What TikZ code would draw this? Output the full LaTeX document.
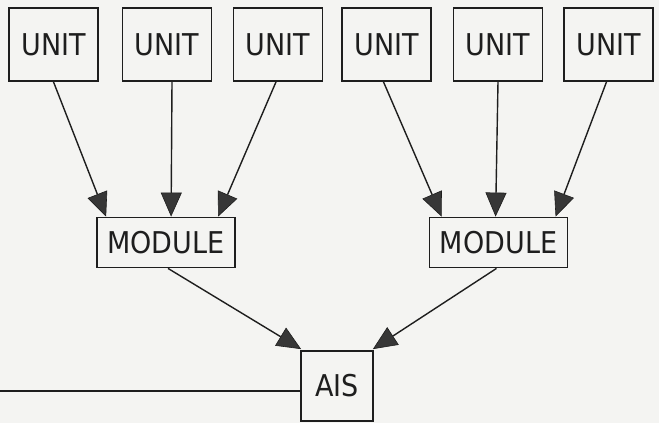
\documentclass[tikz,border=0pt]{standalone}
\usepackage{fontspec}
\setmainfont{DejaVu Sans}[FakeStretch=0.9]
\usetikzlibrary{arrows.meta,calc}
\definecolor{paper}{RGB}{244,244,242}
\definecolor{ink}{RGB}{30,30,30}
\definecolor{tipink}{RGB}{55,55,55}
\tikzset{
  box/.style={draw=ink, line width=1.8pt, inner sep=0pt, font=\fontsize{30}{30}\selectfont, text=ink},
  unitbox/.style={box, minimum width=89pt, minimum height=73pt},
  modbox/.style={box, minimum width=138pt, minimum height=50pt},
  aisbox/.style={box, minimum width=72pt, minimum height=70pt},
  feed/.style={draw=ink, line width=1.4pt, -{Triangle[length=24pt,width=21pt,fill=tipink,line width=0.6pt]}},
}
\begin{document}
\begin{tikzpicture}[x=1pt,y=-1pt]
  \fill[paper] (0,0) rectangle (659,423);
  \useasboundingbox (0,0) rectangle (659,423);

  % units
  \node[unitbox] (u1) at (53.5,44.5) {UNIT};
  \node[unitbox] (u2) at (167,44.5) {UNIT};
  \node[unitbox] (u3) at (278,44.5) {UNIT};
  \node[unitbox] (u4) at (386.5,44.5) {UNIT};
  \node[unitbox] (u5) at (498,44.5) {UNIT};
  \node[unitbox] (u6) at (608.5,44.5) {UNIT};

  % modules
  \node[modbox] (mL) at (166,242.5) {MODULE};
  \node[modbox] (mR) at (498.5,242.5) {MODULE};

  % AIS
  \node[aisbox] (ais) at (337,386) {AIS};

  % attachment points on the module tops
  \coordinate (lA) at ($(mL.north west)+(10,0)$);
  \coordinate (lB) at ($(mL.north west)+(75,0)$);
  \coordinate (lC) at ($(mL.north west)+(122,0)$);
  \coordinate (rA) at ($(mR.north west)+(13,0)$);
  \coordinate (rB) at ($(mR.north west)+(67,0)$);
  \coordinate (rC) at ($(mR.north west)+(127,0)$);

  \draw[feed] (u1.south) -- (lA);
  \draw[feed] ($(u2.south)+(5,0)$) -- (lB);
  \draw[feed] ($(u3.south)+(-2,0)$) -- (lC);
  \draw[feed] ($(u4.south)+(-3,0)$) -- (rA);
  \draw[feed] (u5.south) -- (rB);
  \draw[feed] ($(u6.south)+(-2,0)$) -- (rC);

  % modules into AIS
  \coordinate (aL) at ($(ais.north west)+(1,-1)$);
  \coordinate (aR) at ($(ais.north east)+(-1,-1)$);
  \draw[feed] ($(mL.south)+(2,0)$) -- (aL);
  \draw[feed] ($(mR.south)+(-2,0)$) -- (aR);

  % outgoing link
  \coordinate (out) at (0,391);
  \draw[draw=ink, line width=1.6pt] (out) -- (out -| ais.west);
\end{tikzpicture}
\end{document}
